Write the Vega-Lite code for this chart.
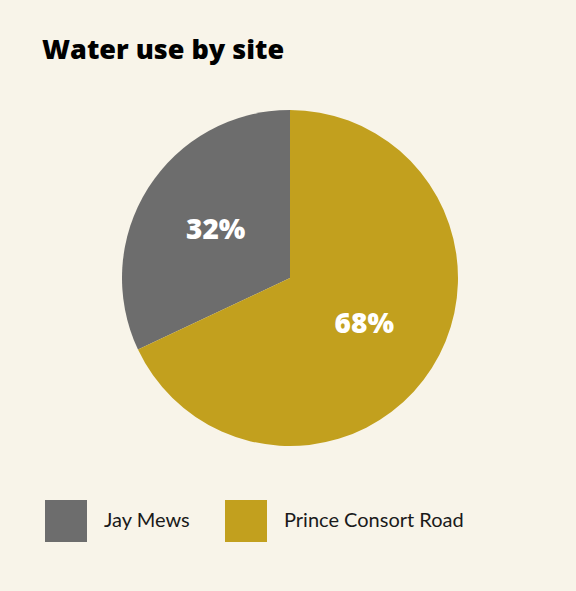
{
  "$schema": "https://vega.github.io/schema/vega-lite/v6.json",
  "autosize": "none",
  "width": 572,
  "height": 396,
  "padding": {"left": 4, "top": 80, "right": 0, "bottom": 115},
  "background": "#f8f4e9",
  "config": {"view": {"stroke": null}},
  "title": {
    "text": "Water use by site",
    "anchor": "start",
    "frame": "group",
    "orient": "top",
    "dx": 38,
    "offset": 15,
    "font": "Open Sans",
    "fontSize": 27,
    "fontWeight": 800,
    "color": "#000000"
  },
  "data": {
    "values": [
      {"site": "Jay Mews", "share": 32, "label": "32%", "ord": 2},
      {"site": "Prince Consort Road", "share": 68, "label": "68%", "ord": 1}
    ]
  },
  "encoding": {
    "theta": {"field": "share", "type": "quantitative", "stack": true},
    "order": {"field": "ord", "type": "quantitative"}
  },
  "layer": [
    {
      "mark": {"type": "arc", "outerRadius": 168},
      "encoding": {
        "color": {
          "field": "site",
          "type": "nominal",
          "scale": {"domain": ["Jay Mews", "Prince Consort Road"], "range": ["#6d6d6d", "#c2a01e"]},
          "legend": {
            "title": null,
            "orient": "none",
            "direction": "horizontal",
            "legendX": 41,
            "legendY": 420,
            "padding": 0,
            "symbolType": "square",
            "symbolSize": 1764,
            "symbolStrokeWidth": 0,
            "symbolOpacity": 1,
            "labelFont": "Lato",
            "labelFontSize": 20,
            "labelColor": "#1a1a1a",
            "labelOffset": 17,
            "columnPadding": 34,
            "labelLimit": 400
          }
        }
      }
    },
    {
      "mark": {"type": "text", "radius": 88, "font": "Open Sans", "fontSize": 28, "fontWeight": 800, "color": "#ffffff"},
      "encoding": {"text": {"field": "label"}}
    }
  ]
}
